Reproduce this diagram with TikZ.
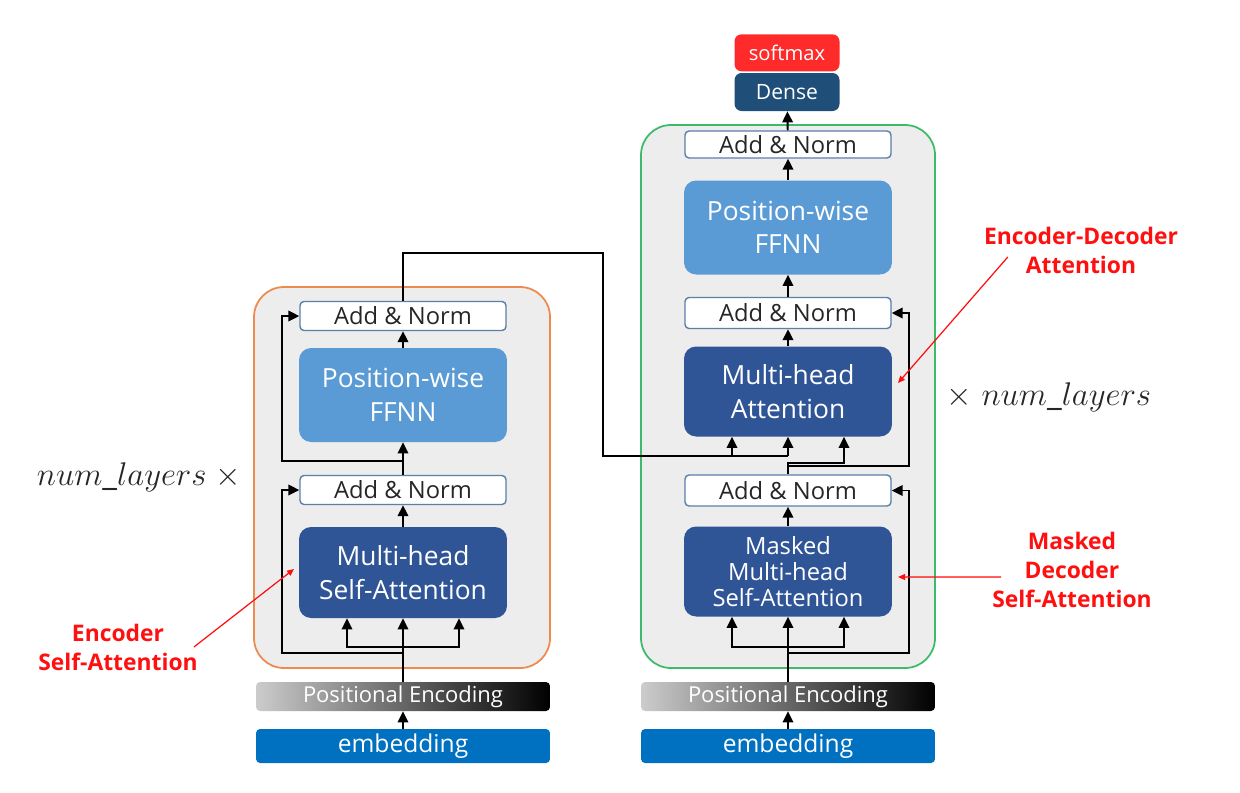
\documentclass[tikz,border=0pt]{standalone}
\usepackage{fontspec}
\setmainfont{Open Sans}
\usepackage{tikz}
\usetikzlibrary{shapes,arrows,arrows.meta,positioning,fit,backgrounds}

\definecolor{ffnnblue}{HTML}{5B9BD5}
\definecolor{mhablue}{HTML}{2F5597}
\definecolor{embblue}{HTML}{0070C0}
\definecolor{anborder}{HTML}{5A7FA8}
\definecolor{densenavy}{HTML}{1F4E79}
\definecolor{softred}{HTML}{FF2B2B}
\definecolor{encorange}{HTML}{EE8A4E}
\definecolor{decgreen}{HTML}{3DBA6A}
\definecolor{panelgray}{HTML}{EDEDED}
\definecolor{labelred}{HTML}{FF1010}

\begin{document}
\begin{tikzpicture}[
  x=0.02cm, y=-0.02cm,
  block/.style={rectangle, rounded corners=0.24cm, text=white, align=center, inner sep=0pt, minimum width=4.16cm},
  attn/.style={block, fill=mhablue, minimum height=1.82cm, font=\fontsize{15}{19}\selectfont},
  masked/.style={block, fill=mhablue, minimum height=1.80cm, font=\fontsize{13.5}{15}\selectfont},
  ffnn/.style={block, fill=ffnnblue, minimum height=1.88cm, font=\fontsize{15}{19}\selectfont},
  addnorm/.style={rectangle, draw=anborder, line width=0.8pt, fill=white, rounded corners=0.08cm, minimum width=4.12cm, minimum height=0.58cm, inner sep=0pt, text=black!85, font=\fontsize{13.5}{16}\selectfont},
  posenc/.style={rectangle, rounded corners=0.08cm, minimum width=5.88cm, minimum height=0.58cm, inner sep=0pt, left color=black!20, middle color=black!42, right color=black, text=white, font=\fontsize{12.5}{15}\selectfont},
  embed/.style={rectangle, rounded corners=0.08cm, fill=embblue, minimum width=5.88cm, minimum height=0.68cm, inner sep=0pt, text=white, font=\fontsize{14}{16}\selectfont},
  outbox/.style={rectangle, rounded corners=0.14cm, minimum width=2.1cm, minimum height=0.76cm, inner sep=0pt, text=white},
  frame/.style={rectangle, rounded corners=0.6cm, fill=panelgray, line width=1pt, inner sep=0pt},
  arrow/.style={->,>={Triangle[length=2.2mm,width=2.1mm]}, line width=1.1pt},
  note/.style={text=labelred, align=center, font=\bfseries\fontsize{13}{16.5}\selectfont},
  pointer/.style={->,>={Triangle[length=1.4mm,width=1.2mm]}, draw=labelred, fill=labelred, line width=0.7pt},
  layers/.style={font=\fontsize{17.28}{20}\selectfont, text=black!85}
]
\useasboundingbox (0,0) rectangle (1240,792);

% Frames
\node[frame, draw=encorange, fit={(254,287) (550,668)}] (encoder) {};
\node[frame, draw=decgreen, fit={(641,125) (935,668)}] (decoder) {};

% Encoder
\node[embed] (emb1) at (403,746) {embedding};
\node[posenc] (pe1) at (403,696.5) {Positional Encoding};
\node[attn] (enc_att) at (403,572.5) {Multi-head\\Self-Attention};
\node[addnorm] (enc_an1) at (403,490) {Add \& Norm};
\node[ffnn] (enc_ffnn) at (403,395) {Position-wise\\FFNN};
\node[addnorm] (enc_an2) at (403,316) {Add \& Norm};

% Decoder
\node[embed] (emb2) at (788,746) {embedding};
\node[posenc] (pe2) at (788,696.5) {Positional Encoding};
\node[masked] (dec_att) at (788,571.5) {Masked\\Multi-head\\Self-Attention};
\node[addnorm, minimum height=0.62cm] (dec_an1) at (788,490.5) {Add \& Norm};
\node[attn, minimum height=1.80cm] (dec_mha) at (788,391.5) {Multi-head\\Attention};
\node[addnorm, minimum height=0.62cm] (dec_an2) at (788,313) {Add \& Norm};
\node[ffnn] (dec_ffnn) at (788,227.5) {Position-wise\\FFNN};
\node[addnorm, minimum height=0.54cm] (dec_an3) at (788,144.5) {Add \& Norm};
\node[outbox, fill=densenavy, font=\fontsize{12}{14}\selectfont] (dense) at (787,92) {Dense};
\node[outbox, fill=softred, above=0.02cm of dense, minimum height=0.74cm, font=\fontsize{11.5}{14}\selectfont] (soft) {softmax};

% Helper points
\coordinate (ejoin) at (403,647);
\coordinate (eres1) at (282,653);
\coordinate (eres2) at (282,461);
\coordinate (attL1) at ([xshift=-1.12cm]enc_att.south);
\coordinate (attR1) at ([xshift=1.12cm]enc_att.south);
\coordinate (djoin) at (788,647);
\coordinate (dres1) at (909,653);
\coordinate (dres2) at (909,466);
\coordinate (qturn) at (788,463);
\coordinate (attL2) at ([xshift=-1.12cm]dec_att.south);
\coordinate (attR2) at ([xshift=1.12cm]dec_att.south);
\coordinate (mhaL) at ([xshift=-1.12cm]dec_mha.south);
\coordinate (mhaR) at ([xshift=1.12cm]dec_mha.south);
\coordinate (xa) at (603,253);
\coordinate (xb) at (603,456);

% Encoder arrows
\draw[arrow] (emb1) -- (pe1);
\draw[arrow] (pe1) -- (enc_att);
\draw[arrow] (ejoin) -| (attL1);
\draw[arrow] (ejoin) -| (attR1);
\draw[arrow] (pe1.north |- eres1) -- (eres1) |- (enc_an1);
\draw[arrow] (enc_att) -- (enc_an1);
\draw[arrow] (enc_an1) -- (enc_ffnn);
\draw[arrow] (enc_an1.north |- eres2) -- (eres2) |- (enc_an2);
\draw[arrow] (enc_ffnn) -- (enc_an2);

% Encoder output into decoder
\draw[line width=1.1pt] (enc_an2) |- (xa) -- (xb) -- (dec_mha.south |- xb);
\draw[arrow] (mhaL |- xb) -- (mhaL);
\draw[arrow] (dec_mha.south |- xb) -- (dec_mha.south);

% Decoder arrows
\draw[arrow] (emb2) -- (pe2);
\draw[arrow] (pe2) -- (dec_att);
\draw[arrow] (djoin) -| (attL2);
\draw[arrow] (djoin) -| (attR2);
\draw[arrow] (pe2.north |- dres1) -- (dres1) |- (dec_an1);
\draw[arrow] (dec_att) -- (dec_an1);
\draw[arrow] (dec_an1) -- (qturn) -| (mhaR);
\draw[arrow] (dec_an1.north |- dres2) -- (dres2) |- (dec_an2);
\draw[arrow] (dec_mha) -- (dec_an2);
\draw[arrow] (dec_an2) -- (dec_ffnn);
\draw[arrow] (dec_ffnn) -- (dec_an3);
\draw[arrow] (dec_an3) -- (dense);

% Layer counts
\node[layers] (nl_enc) at (139,477) {\scalebox{1.08}{$num\_layers\;\times$}};
\node[layers] (nl_dec) at (1049,397) {\scalebox{1.08}{$\times\;num\_layers$}};

% Annotations
\node[note] (n_enc) at (118,647) {Encoder\\Self-Attention};
\node[note] (n_encdec) at (1081,250) {Encoder-Decoder\\Attention};
\node[note] (n_mask) at (1072,570) {Masked\\Decoder\\Self-Attention};
\coordinate (t_enc) at (294,569);
\coordinate (t_encdec) at (898,383);
\coordinate (t_mask) at (898,577);
\draw[pointer] ([xshift=-0.2cm]n_enc.east) -- (t_enc);
\draw[pointer] ([xshift=0.6cm,yshift=-0.14cm]n_encdec.west) -- (t_encdec);
\draw[pointer] ([xshift=0.3cm,yshift=-0.14cm]n_mask.west) -- (t_mask);

\end{tikzpicture}
\end{document}
